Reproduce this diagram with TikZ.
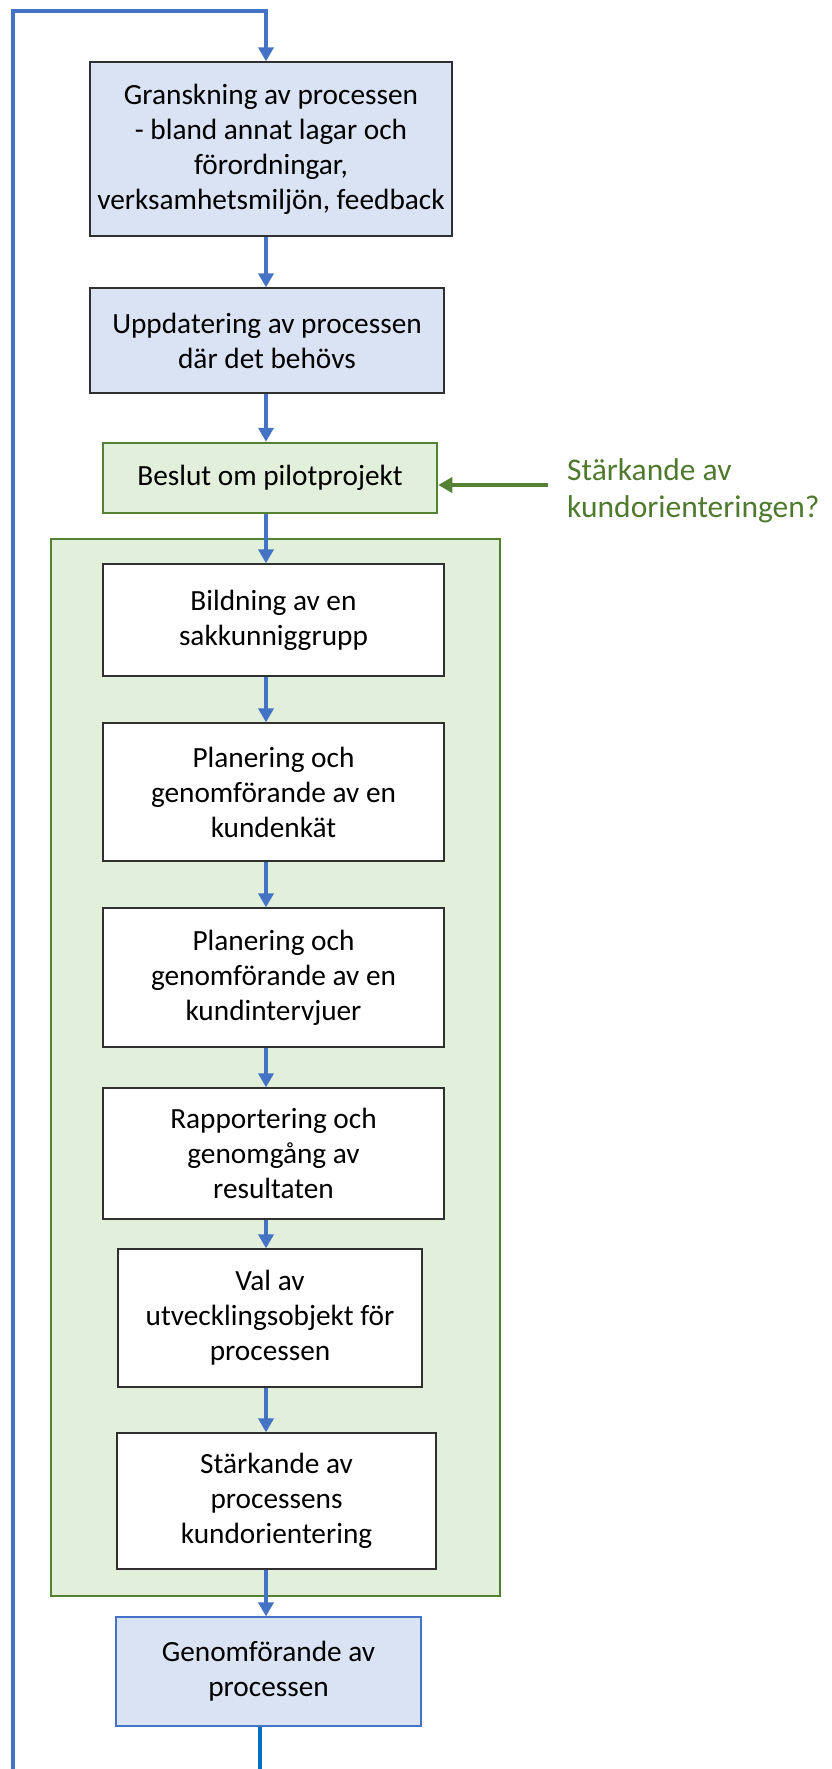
\documentclass[tikz,border=0pt]{standalone}
\usepackage{fontspec}
\setmainfont{Carlito}
\usetikzlibrary{arrows.meta}
\definecolor{lineblue}{HTML}{4472C4}
\definecolor{botblue}{HTML}{0070C0}
\definecolor{bluefill}{HTML}{DAE3F3}
\definecolor{greenfill}{HTML}{E2EFDA}
\definecolor{greenedge}{HTML}{548235}
\definecolor{greentext}{HTML}{4F7A2E}
\definecolor{boxedge}{HTML}{303030}
\tikzset{
  box/.style={draw=boxedge, line width=1.3pt, rectangle, inner sep=0pt, align=center,
    font=\fontsize{29.3}{35}\selectfont, text=black},
  bluebox/.style={box, fill=bluefill},
  whitebox/.style={box, fill=white},
  greenbox/.style={box, fill=greenfill, draw=greenedge, line width=2.5pt},
  conn/.style={draw=lineblue, line width=3.5pt, -{Triangle[width=15pt,length=14pt]}},
  plainconn/.style={draw=lineblue, line width=3.5pt},
  gconn/.style={draw=greenedge, line width=3.5pt, -{Triangle[width=15pt,length=14pt]}},
}
\begin{document}
\begin{tikzpicture}[x=1pt,y=-1pt]
\useasboundingbox (0,0) rectangle (831,1769);
\fill[white] (0,0) rectangle (831,1769);

% container
\node[draw=greenedge, fill=greenfill, line width=2.5pt, minimum width=449pt, minimum height=1057pt, inner sep=0pt] (grp) at (275.5,1067.5) {};

\node[bluebox, minimum width=362pt, minimum height=174pt] (gran) at (271,149)
  {Granskning av processen\\- bland annat lagar och\\förordningar,\\verksamhetsmiljön, feedback};
\node[bluebox, minimum width=354pt, minimum height=105pt] (upd) at (267,340.5)
  {Uppdatering av processen\\där det behövs};
\node[greenbox, minimum width=334pt, minimum height=70pt] (beslut) at (270,478)
  {Beslut om pilotprojekt};
\node[whitebox, minimum width=341pt, minimum height=112pt] (bild) at (273.5,620)
  {Bildning av en\\sakkunniggrupp};
\node[whitebox, minimum width=341pt, minimum height=138pt] (plan1) at (273.5,792)
  {Planering och\\genomförande av en\\kundenkät};
\node[whitebox, minimum width=341pt, minimum height=139pt] (plan2) at (273.5,977.5)
  {Planering och\\genomförande av en\\kundintervjuer};
\node[whitebox, minimum width=341pt, minimum height=131pt] (rapp) at (273.5,1153.5)
  {Rapportering och\\genomgång av\\resultaten};
\node[whitebox, minimum width=304pt, minimum height=138pt] (val) at (270,1318)
  {Val av\\utvecklingsobjekt för\\processen};
\node[whitebox, minimum width=319pt, minimum height=136pt] (stark) at (276.5,1501)
  {Stärkande av\\processens\\kundorientering};
\node[bluebox, draw=lineblue, line width=1.2pt, minimum width=305pt, minimum height=109pt] (genom) at (268.5,1671.5)
  {Genomförande av\\processen};

\node[anchor=west, inner sep=0pt, align=left, text=greentext,
  font=\fontsize{31.5}{37}\selectfont] (glabel) at (567,491)
  {Stärkande av\\kundorienteringen?};

\coordinate (ax) at (266,0);
\coordinate (gs) at (548,485);
\coordinate (lb) at (13,1769);
\coordinate (lt) at (13,11);
\coordinate (bend) at (260,1769);

\draw[conn] (lb) -- (lt) -| (gran.north -| ax);
\draw[conn] (gran.south -| ax) -- (upd.north -| ax);
\draw[conn] (upd.south -| ax) -- (beslut.north -| ax);
\draw[conn] (beslut.south -| ax) -- (bild.north -| ax);
\draw[conn] (bild.south -| ax) -- (plan1.north -| ax);
\draw[conn] (plan1.south -| ax) -- (plan2.north -| ax);
\draw[conn] (plan2.south -| ax) -- (rapp.north -| ax);
\draw[conn] (rapp.south -| ax) -- (val.north -| ax);
\draw[conn] (val.south -| ax) -- (stark.north -| ax);
\draw[conn] (stark.south -| ax) -- (genom.north -| ax);
\draw[plainconn, draw=botblue] (genom.south -| bend) -- (bend);
\draw[gconn] (gs) -- (beslut.east |- gs);
\end{tikzpicture}
\end{document}
